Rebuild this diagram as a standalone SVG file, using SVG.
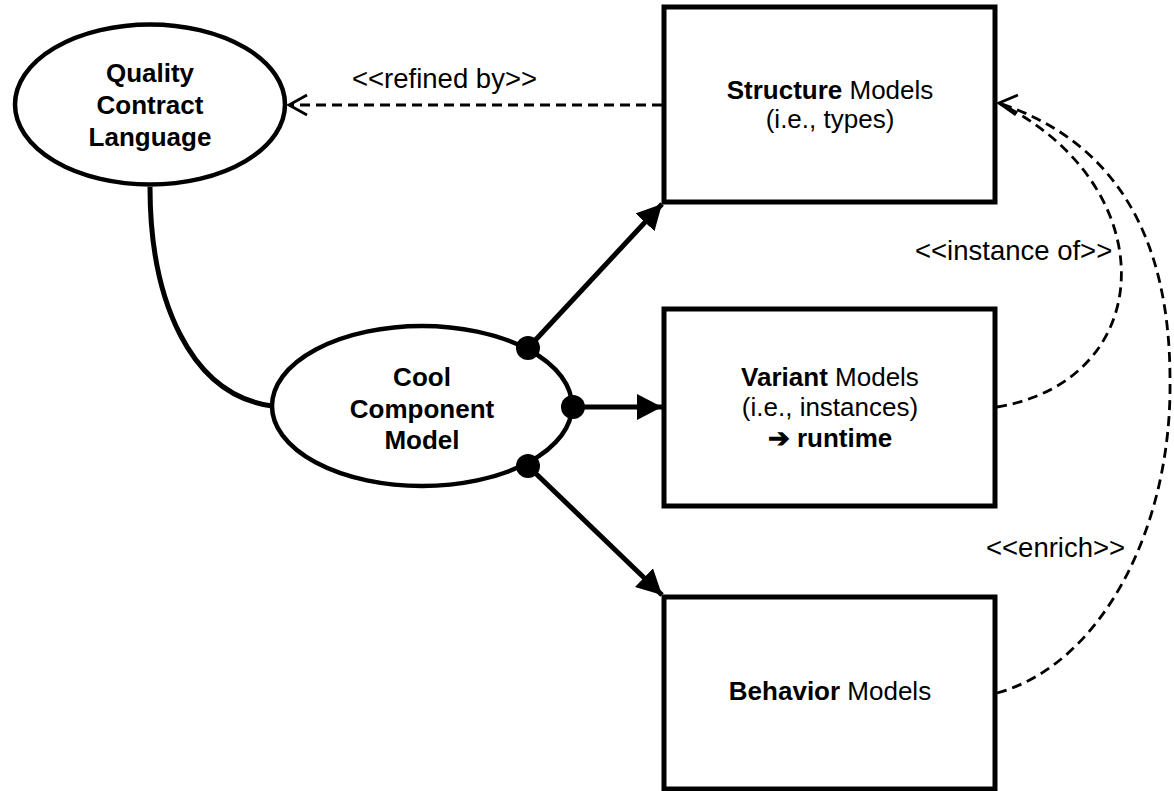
<svg xmlns="http://www.w3.org/2000/svg" width="1174" height="791" viewBox="0 0 1174 791">
  <style>
    .shape { fill: #ffffff; stroke: #000000; stroke-width: 5; }
    .ell { fill: #ffffff; stroke: #000000; stroke-width: 4.5; }
    .solid { fill: none; stroke: #000000; stroke-width: 5; }
    .dash { fill: none; stroke: #000000; stroke-width: 2.8; stroke-dasharray: 10 6; }
    .dot { fill: #000000; }
    text { font-family: "Liberation Sans", Arial, sans-serif; fill: #000000; text-anchor: middle; }
    .node { font-size: 26px; }
    .b { font-weight: bold; }
    .lbl { font-size: 27.5px; text-anchor: start; }
  </style>
  <defs>
    <marker id="filled" markerUnits="userSpaceOnUse" viewBox="0 0 25 26" refX="25" refY="13" markerWidth="25" markerHeight="26" orient="auto">
      <path d="M0,0 L25,13 L0,26 Z" fill="#000000"/>
    </marker>
    <marker id="open" markerUnits="userSpaceOnUse" viewBox="-22 -13 25 26" refX="0" refY="0" markerWidth="25" markerHeight="26" orient="auto">
      <path d="M-18,-10 L0,0 L-18,10" fill="none" stroke="#000000" stroke-width="2.8"/>
    </marker>
    <!-- same open head, held at a near-horizontal angle where the curved links meet -->
    <marker id="open-left" markerUnits="userSpaceOnUse" viewBox="-22 -13 25 26" refX="0" refY="0" markerWidth="25" markerHeight="26" orient="186">
      <path d="M-18,-10 L0,0 L-18,10" fill="none" stroke="#000000" stroke-width="2.8"/>
    </marker>
  </defs>

  <!-- connectors -->
  <g id="connectors">
    <path class="solid" d="M150,187 C150,300 190,395 272,406"/>
    <line class="solid" x1="528" y1="348" x2="662" y2="204" marker-end="url(#filled)"/>
    <line class="solid" x1="573" y1="407" x2="662" y2="407" marker-end="url(#filled)"/>
    <line class="solid" x1="528" y1="466" x2="662" y2="595" marker-end="url(#filled)"/>
    <line class="dash" x1="662" y1="105" x2="289" y2="105" marker-end="url(#open)"/>
    <path class="dash" d="M997,407 C1160,380 1165,185 999,103" marker-end="url(#open-left)"/>
    <path class="dash" d="M997,693 C1100,665 1172,530 1170,380 C1170,230 1110,140 999,103"/>
    <text class="lbl" x="352" y="88">&lt;&lt;refined by&gt;&gt;</text>
    <text class="lbl" x="915" y="260">&lt;&lt;instance of&gt;&gt;</text>
    <text class="lbl" x="986" y="557">&lt;&lt;enrich&gt;&gt;</text>
  </g>

  <g id="quality-contract-language">
    <ellipse class="ell" cx="150" cy="104.5" rx="135" ry="80"/>
    <text class="node b" x="150" y="82">Quality</text>
    <text class="node b" x="150" y="114">Contract</text>
    <text class="node b" x="150" y="146">Language</text>
  </g>

  <g id="cool-component-model">
    <ellipse class="ell" cx="422" cy="406" rx="150" ry="80"/>
    <text class="node b" x="422" y="386">Cool</text>
    <text class="node b" x="422" y="418">Component</text>
    <text class="node b" x="422" y="449">Model</text>
    <circle class="dot" cx="528" cy="348" r="12"/>
    <circle class="dot" cx="573" cy="407" r="12"/>
    <circle class="dot" cx="528" cy="466" r="12"/>
  </g>

  <g id="structure-models">
    <rect class="shape" x="664" y="7" width="331" height="195"/>
    <text class="node" x="830" y="99"><tspan class="b">Structure</tspan> Models</text>
    <text class="node" x="830" y="128">(i.e., types)</text>
  </g>

  <g id="variant-models">
    <rect class="shape" x="664" y="309" width="331" height="197"/>
    <text class="node" x="830" y="386"><tspan class="b">Variant</tspan> Models</text>
    <text class="node" x="830" y="416">(i.e., instances)</text>
    <text class="node b" x="830" y="447">➔ runtime</text>
  </g>

  <g id="behavior-models">
    <rect class="shape" x="664" y="597" width="331" height="192"/>
    <text class="node" x="830" y="700"><tspan class="b">Behavior</tspan> Models</text>
  </g>
</svg>
